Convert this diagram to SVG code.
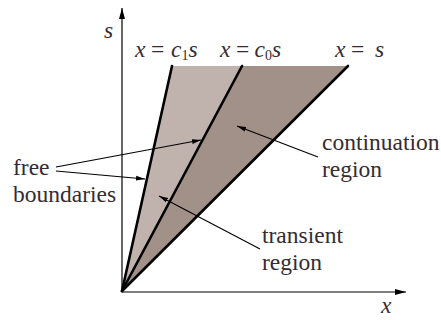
<svg xmlns="http://www.w3.org/2000/svg" width="441" height="320" viewBox="0 0 441 320">
<style>
text{font-family:"Liberation Serif","Times New Roman",serif;font-size:23.5px;fill:#352c31}
.i{font-style:italic}
.sub{font-size:14px}
.ax{stroke:#000;stroke-width:1.2;fill:none}
.bd{stroke:#000;stroke-width:2.6;fill:none;stroke-linecap:round}
.ar{stroke:#000;stroke-width:1.1;fill:none}
</style>
<defs>
<marker id="ah" markerUnits="userSpaceOnUse" markerWidth="10" markerHeight="6" refX="9" refY="3" orient="auto">
<path d="M0,0.6 L9,3 L0,5.4 Z" fill="#000"/>
</marker>
<marker id="axh" markerUnits="userSpaceOnUse" markerWidth="12" markerHeight="8" refX="11" refY="4" orient="auto">
<path d="M0,1 L11,4 L0,7 Z" fill="#000"/>
</marker>
</defs>
<g id="regions">
<polygon id="transient-region" points="122,291 172,66 242,66" fill="#c0b3ad"/>
<polygon id="continuation-region" points="122,291 242,66 348,66" fill="#a29189"/>
</g>
<g id="axes">
<line class="ax" x1="122" y1="292" x2="122" y2="8" marker-end="url(#axh)"/>
<line class="ax" x1="122" y1="292" x2="406" y2="292" marker-end="url(#axh)"/>
<text class="i" x="104" y="38">s</text>
<text class="i" x="381" y="313">x</text>
</g>
<g id="boundaries">
<line class="bd" x1="122" y1="291" x2="172" y2="66"/>
<line class="bd" x1="122" y1="291" x2="242" y2="66"/>
<line class="bd" x1="122" y1="291" x2="348" y2="66"/>
</g>
<g id="top-labels">
<text x="135" y="57"><tspan class="i">x</tspan><tspan x="151">=</tspan><tspan class="i" x="171">c</tspan><tspan class="sub" x="181.5" dy="3">1</tspan><tspan class="i" x="188.5" dy="-3">s</tspan></text>
<text x="220" y="57"><tspan class="i">x</tspan><tspan x="236">=</tspan><tspan class="i" x="254.5">c</tspan><tspan class="sub" x="265" dy="3">0</tspan><tspan class="i" x="272" dy="-3">s</tspan></text>
<text x="335" y="57"><tspan class="i">x</tspan><tspan x="351">=</tspan><tspan class="i" x="375">s</tspan></text>
</g>
<g id="free-label">
<text x="13" y="175">free</text>
<text x="13" y="202">boundaries</text>
</g>
<g id="continuation-label">
<text x="322" y="150">continuation</text>
<text x="322" y="177">region</text>
</g>
<g id="transient-label">
<text x="262" y="243">transient</text>
<text x="262" y="270">region</text>
</g>
<g id="connectors">
<line class="ar" x1="56" y1="167" x2="201" y2="140" marker-end="url(#ah)"/>
<line class="ar" x1="56" y1="171" x2="145" y2="179" marker-end="url(#ah)"/>
<line class="ar" x1="260" y1="249" x2="159" y2="196" marker-end="url(#ah)"/>
<line class="ar" x1="318" y1="157" x2="237" y2="126" marker-end="url(#ah)"/>
</g>
</svg>
